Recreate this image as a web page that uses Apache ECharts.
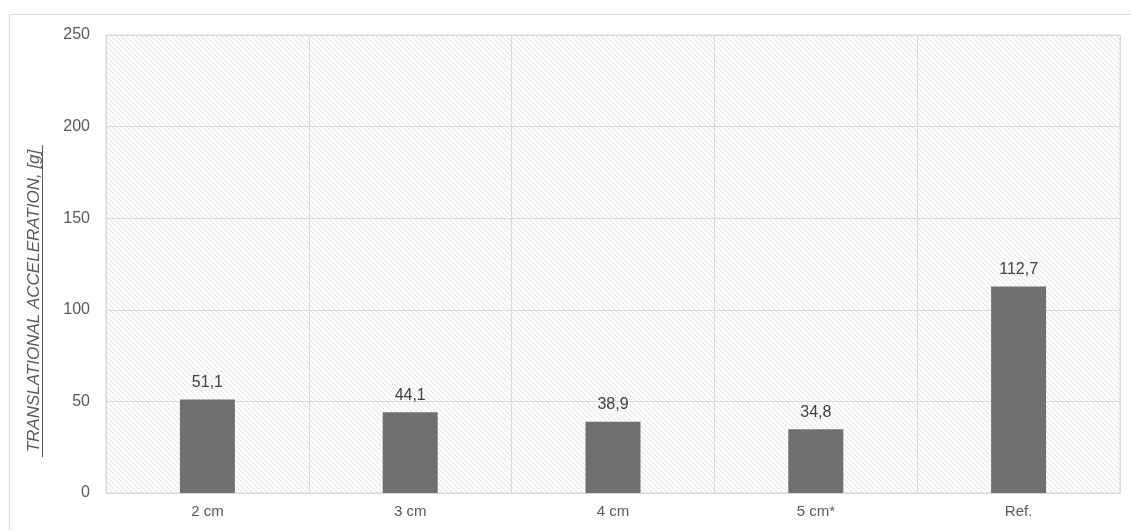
<!DOCTYPE html>
<html>
<head>
<meta charset="utf-8">
<script src="https://cdn.jsdelivr.net/npm/echarts@6/dist/echarts.min.js"></script>
<style>
  html, body { margin: 0; padding: 0; background: #fff; }
  #main { width: 1131px; height: 531px; }
</style>
</head>
<body>
<div id="main"></div>
<script>
// 数据
var categories = ['2 cm', '3 cm', '4 cm', '5 cm*', 'Ref.'];
var accelValues = [51.1, 44.1, 38.9, 34.8, 112.7];
var yTicks = [0, 50, 100, 150, 200, 250];
var axisTitle = 'TRANSLATIONAL ACCELERATION, [g]';

// 斜线底纹
function makeHatch() {
    var size = 5;
    var c = document.createElement('canvas');
    c.width = size;
    c.height = size;
    var ctx = c.getContext('2d');
    ctx.fillStyle = '#ffffff';
    ctx.fillRect(0, 0, size, size);
    ctx.fillStyle = '#e2e2e2';
    for (var i = 0; i < size; i++) {
        ctx.fillRect(i, i, 1, 1);
    }
    return c;
}

var myChart = echarts.init(document.getElementById('main'), null, { renderer: 'canvas' });

var fontFamily = '"Liberation Sans", Arial, sans-serif';

var option = {
    animation: false,
    backgroundColor: '#ffffff',
    textStyle: { fontFamily: fontFamily },
    grid: {
        left: 106,
        right: 11,
        top: 35,
        bottom: 38,
        show: true,
        borderColor: '#d9d9d9',
        borderWidth: 1,
        backgroundColor: { image: makeHatch(), repeat: 'repeat' }
    },
    xAxis: {
        type: 'category',
        data: categories,
        axisLine: { show: true, lineStyle: { color: '#d9d9d9', width: 1 } },
        axisTick: { show: false },
        splitLine: { show: true, interval: 0, lineStyle: { color: '#d9d9d9', width: 1 } },
        axisLabel: { color: '#595959', fontSize: 15, margin: 11, fontFamily: fontFamily }
    },
    yAxis: {
        type: 'value',
        min: yTicks[0],
        max: yTicks[yTicks.length - 1],
        interval: 50,
        axisLine: { show: false },
        axisTick: { show: false },
        splitLine: { show: true, lineStyle: { color: '#d9d9d9', width: 1 } },
        axisLabel: { color: '#595959', fontSize: 16, margin: 16, fontFamily: fontFamily }
    },
    series: [
        {
            type: 'bar',
            data: accelValues,
            barWidth: 55,
            itemStyle: { color: '#707070' },
            label: {
                show: true,
                position: 'top',
                distance: 9,
                color: '#404040',
                fontSize: 16,
                fontFamily: fontFamily,
                formatter: function (p) {
                    return p.value.toFixed(1).replace('.', ',');
                }
            }
        }
    ],
    graphic: [
        {
            type: 'rect',
            z: -10,
            silent: true,
            shape: { x: 9.5, y: 14.5, width: 1200, height: 600 },
            style: { fill: 'none', stroke: '#d9d9d9', lineWidth: 1 }
        },
        {
            type: 'text',
            x: 34,
            y: 301,
            rotation: Math.PI / 2,
            style: {
                text: axisTitle,
                fill: '#595959',
                font: 'italic 17px ' + fontFamily,
                textAlign: 'center',
                textVerticalAlign: 'middle'
            }
        },
        {
            type: 'line',
            silent: true,
            shape: { x1: 42.5, y1: 145, x2: 42.5, y2: 457 },
            style: { stroke: '#595959', lineWidth: 1 }
        }
    ]
};

myChart.setOption(option);
</script>
</body>
</html>
